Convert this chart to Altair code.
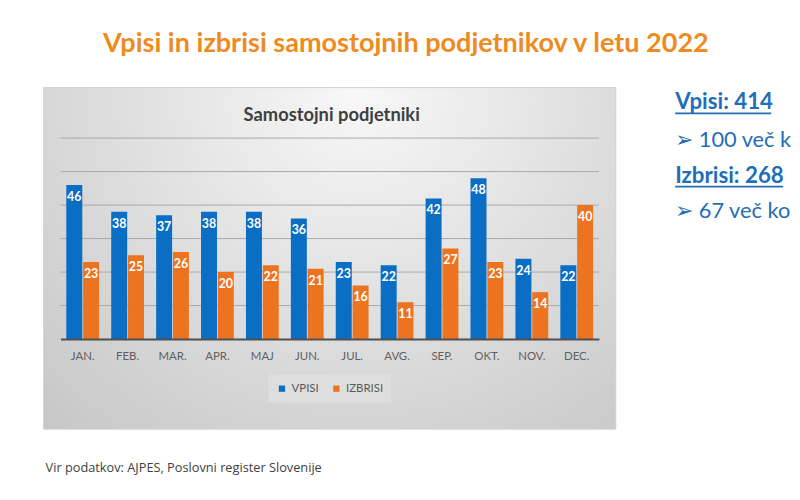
import altair as alt
import pandas as pd

months = ["JAN.", "FEB.", "MAR.", "APR.", "MAJ", "JUN.", "JUL.", "AVG.", "SEP.", "OKT.", "NOV.", "DEC."]
vpisi = [46, 38, 37, 38, 38, 36, 23, 22, 42, 48, 24, 22]
izbrisi = [23, 25, 26, 20, 22, 21, 16, 11, 27, 23, 14, 40]
series = ["VPISI", "IZBRISI"]
colors = ["#0A6EC4", "#EC7420"]
grid_values = [10, 20, 30, 40, 50, 60]

main_title = "Vpisi in izbrisi samostojnih podjetnikov v letu 2022"
chart_title = "Samostojni podjetniki"
side_texts = ["Vpisi: 414", "\u27a2 100 več k", "Izbrisi: 268", "\u27a2 67 več ko"]
footer = "Vir podatkov: AJPES, Poslovni register Slovenije"

rows = []
for m, v, z in zip(months, vpisi, izbrisi):
    rows.append({"month": m, "series": series[0], "value": v})
    rows.append({"month": m, "series": series[1], "value": z})
df = pd.DataFrame(rows)
grid_df = pd.DataFrame({"v": grid_values})
one = pd.DataFrame({"a": [0]})

FONT = "Lato"

y_scale = alt.Scale(domain=[0, 60], nice=False)

x_enc = alt.X("month:N", sort=months,
              scale=alt.Scale(paddingInner=0.27, paddingOuter=0.13),
              axis=alt.Axis(title=None, labelAngle=0, labelColor="#606060", labelFontSize=11.5,
                            labelFont=FONT, ticks=False, domainColor="#505050", domainWidth=2,
                            labelPadding=12, grid=False, zindex=1))
xo_enc = alt.XOffset("series:N", sort=series, scale=alt.Scale(paddingInner=0.05))
y_enc = alt.Y("value:Q", scale=y_scale, axis=None)

bg = alt.Chart(one).mark_rect(
    color={"gradient": "radial", "x1": 0.55, "y1": 0.2, "x2": 0.55, "y2": 0.2, "r1": 0, "r2": 0.85,
           "stops": [{"offset": 0, "color": "#f8f8f8"}, {"offset": 1, "color": "#c4c4c4"}]},
    stroke="#d0d0d0", strokeWidth=1
).encode(x=alt.value(-17), x2=alt.value(561), y=alt.value(-51), y2=alt.value(294))

grid = alt.Chart(grid_df).mark_rule(color="#a9a9a9", strokeWidth=1).encode(
    y=alt.Y("v:Q", scale=y_scale, axis=None), x=alt.value(0), x2=alt.value(544))

bars = alt.Chart(df).mark_bar().encode(
    x=x_enc, xOffset=xo_enc, y=y_enc,
    color=alt.Color("series:N", sort=series, scale=alt.Scale(domain=series, range=colors),
                    legend=alt.Legend(orient="none", legendX=210, legendY=239, direction="horizontal",
                                      title=None, symbolType="square", symbolSize=40,
                                      symbolStrokeWidth=0,
                                      labelFontSize=11.5, labelColor="#595959", labelFont=FONT,
                                      fillColor="#dedede", padding=8, columnPadding=12))
)

labels = alt.Chart(df).mark_text(baseline="top", dy=6, color="white", fontWeight="bold",
                                 fontSize=12.5, font=FONT).encode(
    x=alt.X("month:N", sort=months), xOffset=alt.XOffset("series:N", sort=series),
    y=alt.Y("value:Q", scale=y_scale, axis=None), text="value:Q"
)


def txt(t, x, y, size, color, weight="normal", align="left", font=FONT):
    return alt.Chart(one).mark_text(text=t, fontSize=size, color=color, fontWeight=weight,
                                    align=align, baseline="alphabetic", font=font).encode(
        x=alt.value(x), y=alt.value(y))


def uline(x1, x2, y, color):
    return alt.Chart(one).mark_rule(color=color, strokeWidth=1.6).encode(
        x=alt.value(x1), x2=alt.value(x2), y=alt.value(y))


blue_txt = "#1F6EB8"
layers = [
    bg, grid, bars, labels,
    txt(main_title, 349, -87, 27.3, "#EF8A1E", "bold", "center"),
    txt(chart_title, 274, -17, 18.5, "#404040", "bold", "center"),
    txt(side_texts[0], 621, -29, 22.5, blue_txt, "bold"),
    uline(621, 718, -25, blue_txt),
    txt(side_texts[1], 621, 9, 22, blue_txt),
    txt(side_texts[2], 621, 45, 22.5, blue_txt, "bold"),
    uline(621, 730, 49, blue_txt),
    txt(side_texts[3], 621, 81, 22, blue_txt),
    txt(footer, -15, 337, 12.9, "#404040", "normal", "left", "Open Sans"),
]

chart = alt.layer(*layers).properties(
    width=544, height=203,
    autosize="none",
    padding={"left": 53, "top": 129, "right": 195, "bottom": 144},
    background="white",
).configure_view(stroke=None)

chart.save("out.html", embed_options={"renderer": "svg", "actions": False})
